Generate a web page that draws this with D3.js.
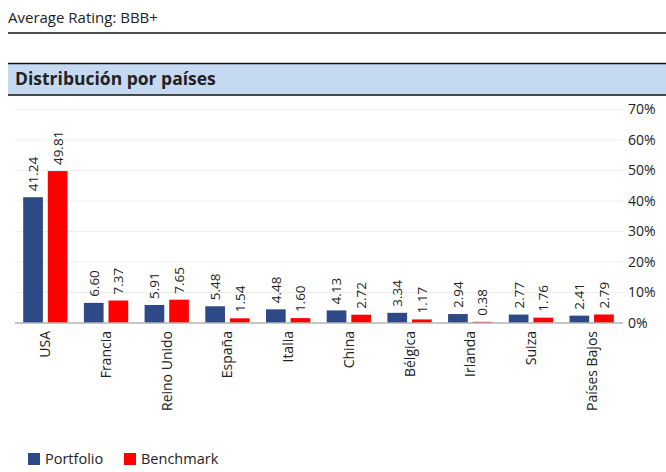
<!DOCTYPE html>
<html>
<head>
<meta charset="utf-8">
<script src="https://cdnjs.cloudflare.com/ajax/libs/d3/7.8.5/d3.min.js"></script>
<style>
  body { margin: 0; background: #fff; }
  svg text { font-family: "Open Sans", sans-serif; fill: #222; }
</style>
</head>
<body>
<div class="chart"></div>
<script>
// data
var countries = ["USA", "Francia", "Reino Unido", "España", "Italia", "China", "Bélgica", "Irlanda", "Suiza", "Países Bajos"];
var portfolio = [41.24, 6.60, 5.91, 5.48, 4.48, 4.13, 3.34, 2.94, 2.77, 2.41];
var benchmark = [49.81, 7.37, 7.65, 1.54, 1.60, 2.72, 1.17, 0.38, 1.76, 2.79];
var seriesNames = ["Portfolio", "Benchmark"];
var yTicks = [0, 10, 20, 30, 40, 50, 60, 70];

var svgWidth = 666;
var svgHeight = 472;
var colors = { Portfolio: "#2e4a86", Benchmark: "#ff0000" };

var svg = d3.select(".chart")
  .append("svg")
  .attr("width", svgWidth)
  .attr("height", svgHeight);

// top header
svg.append("text")
  .attr("x", 8)
  .attr("y", 23)
  .style("font-size", "15px")
  .text("Average Rating: BBB+");

svg.append("line")
  .attr("x1", 8).attr("x2", svgWidth)
  .attr("y1", 33).attr("y2", 33)
  .attr("stroke", "#111").attr("stroke-width", 1.5);

// title band
svg.append("rect")
  .attr("x", 8).attr("y", 63)
  .attr("width", svgWidth - 8).attr("height", 32)
  .attr("fill", "#c5d9f1");

svg.append("line")
  .attr("x1", 8).attr("x2", svgWidth)
  .attr("y1", 63.5).attr("y2", 63.5)
  .attr("stroke", "#111").attr("stroke-width", 1.5);

svg.append("line")
  .attr("x1", 8).attr("x2", svgWidth)
  .attr("y1", 95).attr("y2", 95)
  .attr("stroke", "#111").attr("stroke-width", 1.5);

svg.append("text")
  .attr("x", 15)
  .attr("y", 85)
  .style("font-size", "17.5px")
  .style("font-weight", "bold")
  .text("Distribución por países");

// scales
var x0 = d3.scaleBand()
  .domain(countries)
  .range([15, 622])
  .paddingInner(0.27)
  .paddingOuter(0.135);

var x1 = d3.scaleBand()
  .domain(seriesNames)
  .range([0, x0.bandwidth()])
  .paddingInner(0.2);

var y = d3.scaleLinear()
  .domain([0, 70])
  .range([323, 109.5]);

// gridlines
svg.append("g")
  .selectAll("line")
  .data(yTicks.slice(1))
  .enter()
  .append("line")
  .attr("x1", 15).attr("x2", 623)
  .attr("y1", d => y(d)).attr("y2", d => y(d))
  .attr("stroke", "#eeeeee")
  .attr("stroke-width", 1);

// right axis labels
var rightAxis = d3.axisRight(y)
  .tickValues(yTicks)
  .tickFormat(d => d + "%")
  .tickSize(0)
  .tickPadding(0);

var yAxis = svg.append("g")
  .attr("transform", "translate(628, 0)")
  .call(rightAxis);
yAxis.select(".domain").remove();
yAxis.selectAll("text")
  .style("font-size", "14px")
  .attr("fill", "#222")
  .style("font-family", "\"Open Sans\", sans-serif");

// bars
var rows = countries.map(function(c, i) {
  return { country: c, values: [
    { key: "Portfolio", value: portfolio[i] },
    { key: "Benchmark", value: benchmark[i] }
  ] };
});

var groups = svg.selectAll(".country")
  .data(rows)
  .enter()
  .append("g")
  .attr("class", "country")
  .attr("transform", d => `translate(${x0(d.country)}, 0)`);

groups.selectAll("rect")
  .data(d => d.values)
  .enter()
  .append("rect")
  .attr("x", d => x1(d.key))
  .attr("width", x1.bandwidth())
  .attr("y", d => y(d.value))
  .attr("height", d => y(0) - y(d.value))
  .attr("fill", d => colors[d.key]);

// value labels
groups.selectAll(".val")
  .data(d => d.values)
  .enter()
  .append("text")
  .attr("class", "val")
  .attr("transform", d => `translate(${x1(d.key) + x1.bandwidth() / 2}, ${y(d.value) - 6}) rotate(-90)`)
  .attr("dy", "0.36em")
  .style("font-size", "13.5px")
  .text(d => d.value.toFixed(2));

// baseline
svg.append("line")
  .attr("x1", 15).attr("x2", 623)
  .attr("y1", y(0)).attr("y2", y(0))
  .attr("stroke", "#b3b3b3")
  .attr("stroke-width", 1.5);

// category labels
svg.append("g")
  .selectAll("text")
  .data(countries)
  .enter()
  .append("text")
  .attr("transform", d => `translate(${x0(d) + x0.bandwidth() / 2}, 331) rotate(-90)`)
  .attr("text-anchor", "end")
  .attr("dy", "0.36em")
  .style("font-size", "14px")
  .text(d => d);

// legend
var legend = svg.append("g")
  .attr("transform", "translate(28, 453)");

var legendX = [0, 96];
seriesNames.forEach(function(name, i) {
  legend.append("rect")
    .attr("x", legendX[i]).attr("y", 0)
    .attr("width", 12).attr("height", 12)
    .attr("fill", colors[name]);
  legend.append("text")
    .attr("x", legendX[i] + 17)
    .attr("y", 11)
    .style("font-size", "14.5px")
    .text(name);
});
</script>
</body>
</html>
